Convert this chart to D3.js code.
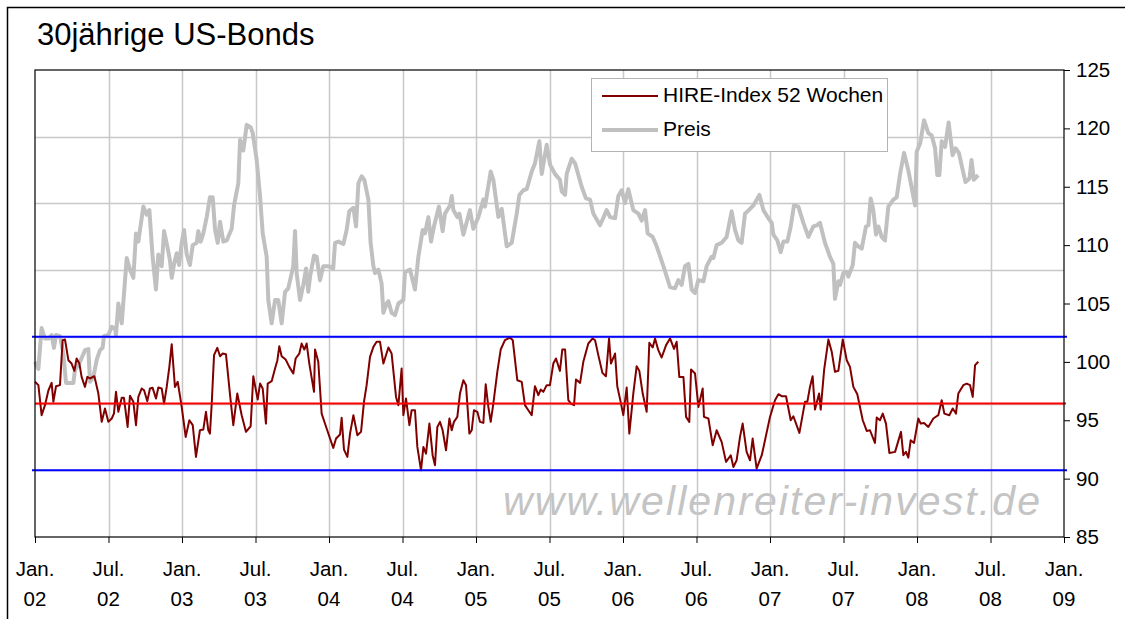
<!DOCTYPE html>
<html>
<head>
<meta charset="utf-8">
<script src="https://cdn.jsdelivr.net/npm/d3@7"></script>
<style>
  body { margin: 0; background: #fff; }
  text { font-family: "Liberation Sans", Arial, sans-serif; fill: #000; }
</style>
</head>
<body>
<script>
// price of the 30y bond (right axis)
var priceYears = [2002.000,2002.023,2002.045,2002.068,2002.091,2002.113,2002.129,2002.143,2002.170,2002.193,2002.211,2002.261,2002.272,2002.306,2002.340,2002.363,2002.374,2002.397,2002.420,2002.442,2002.460,2002.469,2002.499,2002.522,2002.544,2002.551,2002.567,2002.590,2002.624,2002.646,2002.669,2002.687,2002.703,2002.714,2002.737,2002.760,2002.778,2002.800,2002.823,2002.839,2002.862,2002.878,2002.900,2002.918,2002.930,2002.946,2002.964,2002.980,2002.998,2003.014,2003.032,2003.054,2003.073,2003.100,2003.111,2003.127,2003.145,2003.168,2003.190,2003.209,2003.225,2003.243,2003.259,2003.281,2003.304,2003.338,2003.354,2003.383,2003.395,2003.417,2003.440,2003.467,2003.481,2003.508,2003.531,2003.549,2003.576,2003.587,2003.610,2003.633,2003.655,2003.678,2003.701,2003.723,2003.757,2003.769,2003.780,2003.803,2003.825,2003.844,2003.859,2003.871,2003.898,2003.916,2003.939,2003.961,2003.995,2004.029,2004.041,2004.064,2004.098,2004.120,2004.138,2004.166,2004.184,2004.200,2004.222,2004.240,2004.268,2004.283,
  2004.302,2004.313,2004.336,2004.358,2004.370,2004.392,2004.404,2004.426,2004.449,2004.472,2004.506,2004.517,2004.551,2004.585,2004.608,2004.637,2004.653,2004.676,2004.694,2004.714,2004.748,2004.773,2004.789,2004.823,2004.835,2004.846,2004.873,2004.887,2004.914,2004.959,2004.982,2005.016,2005.050,2005.061,2005.100,2005.118,2005.152,2005.175,2005.209,2005.243,2005.277,2005.295,2005.322,2005.345,2005.379,2005.401,2005.431,2005.447,2005.481,2005.504,2005.537,2005.571,2005.583,2005.606,2005.617,2005.651,2005.674,2005.719,2005.748,2005.776,2005.798,2005.844,2005.889,2005.912,2005.946,2005.968,2005.991,2006.014,2006.036,2006.070,2006.105,2006.127,2006.150,2006.168,2006.202,2006.229,2006.275,2006.320,2006.354,2006.376,2006.399,2006.422,2006.445,2006.467,2006.490,2006.512,
  2006.547,2006.569,2006.603,2006.615,2006.637,2006.671,2006.705,2006.739,2006.762,2006.785,2006.807,2006.830,2006.864,2006.887,2006.928,2006.955,2006.989,2007.012,2007.023,2007.050,2007.073,2007.091,2007.118,2007.141,2007.163,2007.193,2007.227,2007.261,2007.295,2007.318,2007.340,2007.374,2007.408,2007.431,2007.442,2007.465,2007.476,2007.499,2007.522,2007.533,2007.563,2007.578,2007.601,2007.624,2007.653,2007.669,2007.685,2007.703,2007.721,2007.737,2007.760,2007.782,2007.805,2007.839,2007.862,2007.885,2007.912,2007.941,2007.987,2007.998,2008.021,2008.048,2008.077,2008.100,2008.123,2008.138,2008.152,2008.168,2008.191,2008.215,2008.242,2008.262,2008.285,2008.308,2008.330,2008.357,2008.371,2008.387,2008.416];
var priceValues = [100.0,99.4,102.9,102.0,102.0,102.3,101.2,102.3,102.2,100.7,98.2,98.2,99.3,100.0,101.0,101.1,98.3,98.7,100.2,101.0,101.2,102.2,102.3,103.0,102.9,102.3,105.0,103.3,108.9,107.9,107.2,111.0,110.3,111.3,113.3,112.6,113.0,109.0,106.2,109.2,108.2,111.2,109.9,108.7,107.2,108.4,109.3,108.3,110.2,111.3,109.2,108.3,110.0,110.2,111.2,110.3,111.0,112.4,114.1,114.1,111.3,110.2,112.0,110.3,110.4,111.4,113.4,115.3,119.0,118.1,120.3,120.1,119.6,117.3,114.2,111.0,109.0,105.3,103.3,105.3,105.3,103.3,106.0,106.3,108.2,111.2,107.6,105.3,106.6,108.0,106.0,107.3,109.1,109.0,107.0,108.2,108.2,108.0,110.2,110.3,110.1,111.3,112.9,113.2,111.6,115.3,115.9,115.6,113.9,110.2,
  108.2,107.6,107.9,106.7,104.2,105.0,105.2,104.2,104.0,105.0,105.3,107.7,107.9,106.2,109.0,111.3,111.0,112.4,110.3,111.6,113.3,111.2,112.7,113.4,114.2,113.0,112.4,112.7,110.9,113.0,111.4,112.4,113.9,113.3,116.3,115.6,112.4,113.1,109.9,110.2,112.7,114.3,114.7,114.8,116.3,117.0,118.9,116.1,118.6,116.9,116.1,115.6,114.6,114.3,116.1,117.4,117.0,115.0,114.0,113.9,112.7,111.7,113.0,112.4,112.3,114.2,114.7,113.6,114.8,113.0,112.7,112.1,113.0,111.0,110.7,109.9,108.2,106.4,106.3,107.0,106.6,108.2,108.4,106.2,105.9,107.0,
  106.9,108.2,109.0,108.9,110.0,110.2,110.7,112.9,111.3,110.4,110.2,112.7,113.1,113.4,114.3,113.0,112.3,111.9,110.9,110.4,109.4,110.3,110.3,111.6,113.4,113.3,111.9,110.7,111.6,111.7,111.9,110.2,109.0,108.4,105.4,106.9,106.6,107.6,107.7,107.3,108.3,110.2,109.9,109.7,111.6,111.7,114.0,113.0,110.9,111.6,110.7,110.4,113.3,113.9,114.1,116.1,117.9,116.4,113.4,118.0,118.7,120.7,119.6,119.4,118.3,116.0,116.0,118.9,118.4,120.5,117.7,118.3,117.9,116.6,115.4,115.7,117.3,115.6,116.0];

// HIRE-Index 52 Wochen (0..100, hidden left axis)
var hireYears = [2002.000,2002.023,2002.045,2002.068,2002.091,2002.113,2002.125,2002.143,2002.170,2002.188,2002.204,2002.227,2002.249,2002.268,2002.283,2002.302,2002.317,2002.340,2002.356,2002.374,2002.404,2002.431,2002.454,2002.476,2002.499,2002.522,2002.537,2002.551,2002.567,2002.590,2002.605,2002.630,2002.646,2002.669,2002.687,2002.703,2002.726,2002.742,2002.764,2002.782,2002.800,2002.823,2002.839,2002.862,2002.878,2002.896,2002.914,2002.930,2002.952,2002.971,2002.998,2003.025,2003.050,2003.073,2003.095,2003.122,2003.145,2003.163,2003.179,2003.190,2003.202,2003.218,2003.240,2003.259,2003.277,2003.299,2003.327,2003.349,2003.376,2003.406,2003.435,2003.467,2003.485,2003.515,2003.531,2003.549,2003.571,2003.583,2003.610,2003.633,2003.649,2003.662,2003.678,2003.705,2003.730,2003.757,2003.773,2003.798,2003.814,2003.832,2003.848,2003.866,2003.898,2003.905,2003.927,2003.950,2003.984,2004.011,2004.029,2004.048,2004.075,2004.086,2004.102,2004.125,2004.143,2004.166,2004.193,2004.218,2004.238,2004.256,
  2004.279,2004.302,2004.324,2004.347,2004.370,2004.404,2004.426,2004.456,2004.472,2004.494,2004.506,2004.524,2004.547,2004.562,2004.585,2004.601,2004.626,2004.642,2004.660,2004.683,2004.705,2004.721,2004.737,2004.755,2004.773,2004.796,2004.819,2004.835,2004.850,2004.873,2004.891,2004.914,2004.932,2004.955,2004.971,2004.986,2005.009,2005.027,2005.050,2005.066,2005.084,2005.100,2005.118,2005.145,2005.168,2005.197,2005.231,2005.250,2005.281,2005.311,2005.333,2005.356,2005.379,2005.401,2005.424,2005.440,2005.458,2005.481,2005.503,2005.526,2005.544,2005.571,2005.587,2005.606,2005.628,2005.646,2005.667,2005.680,2005.708,2005.730,2005.764,2005.794,2005.810,2005.832,2005.860,2005.884,2005.905,2005.918,2005.946,2005.961,2005.984,2006.002,2006.025,2006.043,2006.070,2006.093,2006.111,2006.134,2006.161,2006.179,2006.202,2006.218,2006.240,2006.263,2006.293,2006.320,2006.347,2006.365,2006.383,2006.411,2006.429,2006.451,2006.463,2006.490,2006.513,
  2006.542,2006.551,2006.581,2006.610,2006.637,2006.671,2006.701,2006.733,2006.751,2006.773,2006.796,2006.814,2006.841,2006.864,2006.882,2006.909,2006.944,2006.966,2007.000,2007.034,2007.057,2007.080,2007.109,2007.141,2007.159,2007.200,2007.238,2007.254,2007.272,2007.290,2007.306,2007.334,2007.345,2007.368,2007.397,2007.420,2007.442,2007.465,2007.495,2007.522,2007.544,2007.567,2007.594,2007.631,2007.658,2007.680,2007.714,2007.726,2007.748,2007.767,2007.789,2007.812,2007.851,2007.891,2007.907,2007.925,2007.941,2007.957,2007.980,2008.009,2008.025,2008.048,2008.077,2008.111,2008.145,2008.168,2008.186,2008.220,2008.243,2008.265,2008.281,2008.315,2008.338,2008.361,2008.379,2008.395,2008.417];
var hireValues = [66.3,63.8,41.3,48.8,59.8,65.5,51.3,63.0,63.8,97.5,98.0,82.5,80.0,74.5,83.8,80.0,70.0,62.5,70.0,68.8,70.5,57.5,36.3,46.3,36.3,38.8,42.5,58.8,43.8,54.3,54.3,32.5,55.8,51.3,33.8,55.0,61.3,60.0,51.8,61.3,61.8,53.8,62.0,61.3,50.0,62.5,77.5,94.5,62.5,66.3,47.5,25.0,37.5,33.8,10.0,30.0,30.5,43.8,30.0,27.5,49.5,86.3,91.8,85.5,87.5,87.0,56.3,33.8,57.5,41.3,28.8,33.0,70.5,53.0,65.0,61.3,35.0,65.0,66.8,76.3,82.5,93.0,85.5,83.0,77.5,72.5,83.8,87.5,95.0,90.5,95.0,80.0,58.8,90.5,81.3,42.5,31.3,22.5,16.8,23.8,26.8,39.3,15.5,10.0,27.5,41.3,26.3,28.8,51.3,63.8,
  85.0,92.5,96.3,96.3,80.0,92.0,87.5,55.0,48.8,76.3,41.3,53.8,33.8,45.0,45.0,17.5,0.0,17.5,12.5,35.0,11.3,3.8,32.5,36.3,30.0,15.0,38.8,30.0,36.3,40.0,57.5,67.5,63.8,27.5,30.0,45.0,43.8,36.3,35.5,64.5,47.5,36.3,50.0,73.8,90.5,97.5,99.5,97.5,67.5,66.3,48.8,45.0,41.3,63.0,56.3,60.5,58.8,63.8,63.8,80.0,83.8,74.5,90.5,90.5,52.5,50.0,48.8,68.0,65.5,81.3,95.0,98.8,97.5,86.3,73.0,70.5,98.8,80.0,87.5,63.0,51.3,41.3,62.0,27.5,57.5,78.0,74.5,57.5,43.8,95.5,92.0,98.8,90.0,84.5,93.8,98.8,91.0,96.3,70.0,70.0,40.0,36.3,75.5,72.5,47.5,
  61.3,40.0,38.8,18.8,30.0,21.3,6.3,11.3,2.5,7.5,25.0,35.0,13.8,7.5,23.8,1.3,11.3,22.5,40.0,52.5,57.0,55.5,55.5,37.5,40.5,28.0,51.3,51.3,62.5,70.5,45.5,57.5,45.5,75.0,98.0,88.8,73.8,74.5,98.0,82.5,77.5,62.5,57.0,37.5,29.5,30.0,20.5,39.5,37.5,42.5,35.0,13.0,13.8,28.8,11.3,13.8,9.5,22.5,20.5,38.8,35.0,35.5,32.5,38.8,41.3,52.5,42.5,41.3,46.3,42.5,57.5,63.8,65.0,63.8,55.0,78.8,81.3];

// horizontal reference lines on the HIRE scale
var bandLevels = [0, 100];
var meanLevel = [50];

var priceTicks = [85, 90, 95, 100, 105, 110, 115, 120, 125];
var hireGrid = [0, 50, 100, 150, 200, 250];
var xTickYears = [2002, 2002.5, 2003, 2003.5, 2004, 2004.5, 2005, 2005.5, 2006, 2006.5, 2007, 2007.5, 2008, 2008.5, 2009];
var xTickLabels = [["Jan.","02"],["Jul.","02"],["Jan.","03"],["Jul.","03"],["Jan.","04"],["Jul.","04"],["Jan.","05"],["Jul.","05"],
                   ["Jan.","06"],["Jul.","06"],["Jan.","07"],["Jul.","07"],["Jan.","08"],["Jul.","08"],["Jan.","09"]];

var w = 1125, h = 619;
var pLeft = 35, pRight = 1064, pTop = 70, pBottom = 537;

var svg = d3.select("body").append("svg")
    .attr("width", w)
    .attr("height", h);

// outer frame, only left and top edge are visible
svg.append("rect")
    .attr("x", 7.5).attr("y", 7.5)
    .attr("width", 1140).attr("height", 640)
    .attr("fill", "#fff")
    .attr("stroke", "#000")
    .attr("stroke-width", 1.5);

svg.append("text")
    .attr("x", 37).attr("y", 45)
    .style("font-size", "31px")
    .text("30jährige US-Bonds");

var x = d3.scaleLinear().domain([2002, 2009]).range([pLeft, pRight]);
var yP = d3.scaleLinear().domain([85, 125]).range([pBottom, pTop]);
var yH = d3.scaleLinear().domain([-50, 300]).range([pBottom, pTop]);

// watermark
svg.append("text")
    .attr("x", 503).attr("y", 515)
    .attr("textLength", 537)
    .attr("lengthAdjust", "spacing")
    .style("font-size", "41px")
    .style("font-style", "italic")
    .style("fill", "#c4c4c4")
    .text("www.wellenreiter-invest.de");

// grid
svg.append("g").selectAll("line")
    .data(xTickYears.slice(1, -1))
    .enter().append("line")
    .attr("x1", function(d) { return Math.round(x(d)) + 0.5; })
    .attr("x2", function(d) { return Math.round(x(d)) + 0.5; })
    .attr("y1", pTop).attr("y2", pBottom)
    .attr("stroke", "#c8c8c8").attr("stroke-width", 1.5);

svg.append("g").selectAll("line")
    .data(hireGrid)
    .enter().append("line")
    .attr("x1", pLeft).attr("x2", pRight)
    .attr("y1", function(d) { return Math.round(yH(d)) + 0.5; })
    .attr("y2", function(d) { return Math.round(yH(d)) + 0.5; })
    .attr("stroke", "#c8c8c8").attr("stroke-width", 1.5);

// series
var priceLine = d3.line()
    .x(function(d, i) { return x(priceYears[i]); })
    .y(function(d) { return yP(d); });

svg.append("path")
    .datum(priceValues)
    .attr("d", priceLine)
    .attr("fill", "none")
    .attr("stroke", "#c0c0c0")
    .attr("stroke-width", 4)
    .attr("stroke-linejoin", "round");

var hireLine = d3.line()
    .x(function(d, i) { return x(hireYears[i]); })
    .y(function(d) { return yH(d); });

svg.append("path")
    .datum(hireValues)
    .attr("d", hireLine)
    .attr("fill", "none")
    .attr("stroke", "#800000")
    .attr("stroke-width", 2)
    .attr("stroke-linejoin", "round");

svg.append("g").selectAll("line")
    .data(bandLevels)
    .enter().append("line")
    .attr("x1", pLeft - 3).attr("x2", pRight + 3)
    .attr("y1", function(d) { return yH(d); })
    .attr("y2", function(d) { return yH(d); })
    .attr("stroke", "#0000ff").attr("stroke-width", 2);

svg.append("g").selectAll("line")
    .data(meanLevel)
    .enter().append("line")
    .attr("x1", pLeft).attr("x2", pRight + 2)
    .attr("y1", function(d) { return yH(d); })
    .attr("y2", function(d) { return yH(d); })
    .attr("stroke", "#ff0000").attr("stroke-width", 2);

// plot frame
svg.append("rect")
    .attr("x", pLeft).attr("y", pTop)
    .attr("width", pRight - pLeft).attr("height", pBottom - pTop)
    .attr("fill", "none")
    .attr("stroke", "#000")
    .attr("stroke-width", 1.2);

// right axis
var yAxis = svg.append("g")
    .attr("transform", "translate(" + pRight + ",0)")
    .call(d3.axisRight(yP).tickValues(priceTicks).tickSize(6).tickPadding(6));
yAxis.select(".domain").remove();
yAxis.selectAll("text")
    .style("font-size", "20.5px")
    .style("font-family", "'Liberation Sans', Arial, sans-serif")
    .attr("fill", "#000");

// bottom axis
var xAxis = svg.append("g")
    .attr("transform", "translate(0," + pBottom + ")")
    .call(d3.axisBottom(x).tickValues(xTickYears).tickSize(6).tickFormat(""));
xAxis.select(".domain").remove();

var xl = svg.append("g").selectAll("text")
    .data(xTickYears)
    .enter().append("text")
    .attr("text-anchor", "middle")
    .style("font-size", "20.5px");
xl.append("tspan")
    .attr("x", function(d) { return x(d); })
    .attr("y", 576)
    .text(function(d, i) { return xTickLabels[i][0]; });
xl.append("tspan")
    .attr("x", function(d) { return x(d); })
    .attr("y", 606)
    .text(function(d, i) { return xTickLabels[i][1]; });

// legend
var lg = svg.append("g");
lg.append("rect")
    .attr("x", 591.5).attr("y", 78.5)
    .attr("width", 296).attr("height", 73)
    .attr("fill", "#fff")
    .attr("stroke", "#b4b4b4");
lg.append("line")
    .attr("x1", 602).attr("x2", 658).attr("y1", 96).attr("y2", 96)
    .attr("stroke", "#800000").attr("stroke-width", 2);
lg.append("text")
    .attr("x", 663).attr("y", 102)
    .style("font-size", "21px")
    .text("HIRE-Index 52 Wochen");
lg.append("line")
    .attr("x1", 602).attr("x2", 658).attr("y1", 130).attr("y2", 130)
    .attr("stroke", "#c0c0c0").attr("stroke-width", 4);
lg.append("text")
    .attr("x", 663).attr("y", 136)
    .style("font-size", "21px")
    .text("Preis");
</script>
</body>
</html>
